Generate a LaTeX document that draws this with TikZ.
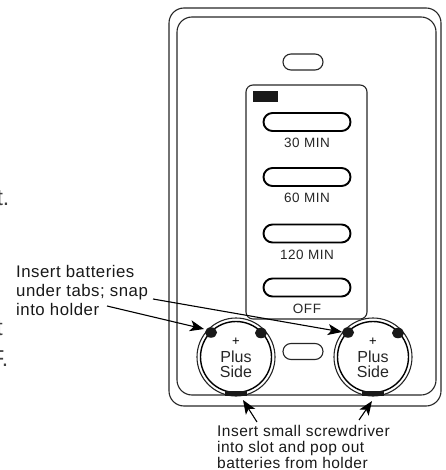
\documentclass[tikz,border=0pt]{standalone}
\usepackage{fontspec}
\setmainfont{Liberation Sans}
\newfontfamily\wide[LetterSpace=3]{Liberation Sans}
\newfontfamily\wider[LetterSpace=4]{Liberation Sans}
\usetikzlibrary{arrows.meta,shapes.geometric}
\tikzset{
  wall/.style={draw=black!85,line width=1.1pt,rounded corners=#1},
  btn/.style={draw=black,line width=1.9pt,rounded corners=9pt,minimum width=87pt,minimum height=18pt,inner sep=0pt},
  oval/.style={draw=black!85,line width=1.1pt,rounded corners=8pt,minimum width=40pt,minimum height=16pt,inner sep=0pt},
  btnlabel/.style={font=\wider\fontsize{13.5}{13.5}\selectfont,text=black!85,inner sep=0pt},
  note/.style={inner sep=0pt,align=left,text=black!90},
  holder/.style={circle,draw=black!85,line width=1.1pt,minimum size=78pt,inner sep=0pt},
  cell/.style={circle,draw=black,line width=1.4pt,minimum size=71pt,inner sep=0pt},
  tab/.style={ellipse,fill=black!90,minimum width=12pt,minimum height=10.5pt,inner sep=0pt},
  slot/.style={fill=black!90,minimum width=22pt,minimum height=5.5pt,inner sep=0pt},
  pointer/.style={-{Stealth[length=14pt,width=11pt,inset=3.5pt]},line width=1.1pt,black},
  stray/.style={font=\fontsize{23}{23}\selectfont,text=black!75,inner sep=0pt}
}
\begin{document}
\begin{tikzpicture}[x=1pt,y=-1pt]
  \useasboundingbox(0,0)rectangle(445,470);
  \draw[wall=15pt](169,8)rectangle(441,406);
  \draw[wall=15pt](177,17)rectangle(436,395);
  \draw[wall=7pt](246,85)rectangle(367,319);
  \fill[black!90](253,91)rectangle(278,102);
  \node[oval](top)at(303,62){};
  \node[oval](mid)at(303,351.5){};
  % buttons and their captions
  \foreach \y/\t/\n in {122/30 MIN/a,177/60 MIN/b,233.5/120 MIN/c,287.5/OFF/d}{
    \node[btn](btn\n)at(307,\y){};
    \node[btnlabel](lab\n)at(307,\y+21){\t};
  }
  % the two batteries
  \foreach \x/\n in {236/l,373/r}{
    \node[holder](hold\n)at(\x,357){};
    \node[cell](cell\n)at(\x,357){};
    \node[note,align=center,text=black!85,font=\fontsize{16}{15}\selectfont](side\n)at(\x,364){Plus\\Side};
    \node[font=\fontsize{13}{13}\selectfont,inner sep=0pt](plus\n)at(\x,341.5){+};
    \node[tab](tabA\n)at(\x-25,332.5){};
    \node[tab](tabB\n)at(\x+25,333){};
    \node[slot](slot\n)at(\x,393.5){};
  }
  \node[note,anchor=north west,font=\wide\fontsize{16.8}{19.3}\selectfont](tabsnote)at(16,265){Insert batteries\\under tabs; snap\\into holder};
  \node[note,anchor=north west,font=\wide\fontsize{15.5}{15.9}\selectfont](slotnote)at(217,425){Insert small screwdriver\\into slot and pop out\\batteries from holder};
  \coordinate(fromA)at(107,306);
  \coordinate(fromB)at(153,299);
  \coordinate(fromC)at(257,422);
  \coordinate(fromD)at(359,420);
  \coordinate(toA)at(204,329);
  \coordinate(toB)at(342,332);
  \coordinate(toC)at(243,400);
  \coordinate(toD)at(372,401);
  \draw[pointer](fromA)--(toA);
  \draw[pointer](fromB)--(toB);
  \draw[pointer](fromC)--(toC);
  \draw[pointer](fromD)--(toD);
  % leftovers of cropped text
  \begin{scope}
    \clip(0,0)rectangle(445,470);
    \node[stray,anchor=base east](strayA)at(9.5,205){t.};
    \node[stray,anchor=base east](strayB)at(3,335){t};
    \node[stray,anchor=base east](strayC)at(8.5,366.7){F.};
  \end{scope}
\end{tikzpicture}
\end{document}
